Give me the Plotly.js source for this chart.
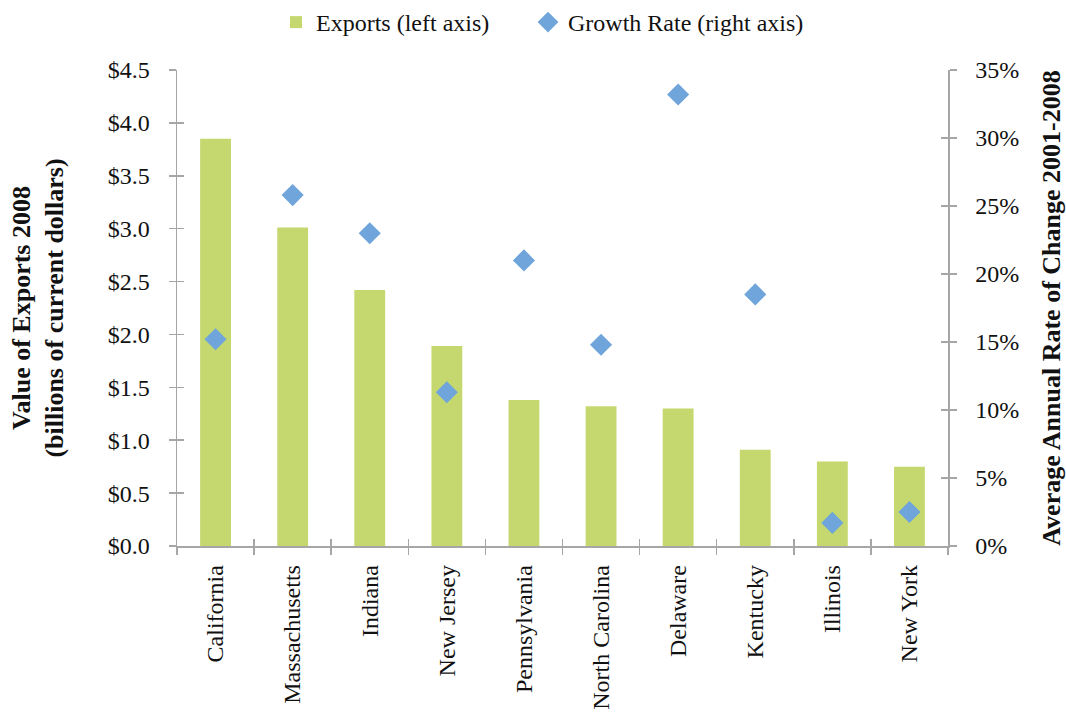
<!DOCTYPE html>
<html>
<head>
<meta charset="utf-8">
<script src="https://cdn.plot.ly/plotly-3.0.1.min.js"></script>
<style>
  html, body { margin: 0; padding: 0; background: #fff; }
  #chart { width: 1066px; height: 727px; }
</style>
</head>
<body>
<div id="chart"></div>
<script>
// Top ten states by value of exports, 2008
const states = ["California", "Massachusetts", "Indiana", "New Jersey", "Pennsylvania",
                "North Carolina", "Delaware", "Kentucky", "Illinois", "New York"];
// Value of exports, billions of current dollars
const exportsValue = [3.85, 3.01, 2.42, 1.89, 1.38, 1.32, 1.30, 0.91, 0.80, 0.75];
// Average annual rate of change 2001-2008
const growthRate = [0.152, 0.258, 0.230, 0.113, 0.210, 0.148, 0.332, 0.185, 0.017, 0.025];

const serif = "Liberation Serif, Times New Roman, serif";
const axisGray = "#A6A6A6";
const catRange = [-0.5, states.length - 0.5];

const traces = [
  {
    type: "bar", name: "Exports (left axis)",
    x: states, y: exportsValue,
    marker: { color: "#C4D86F" },
    width: 0.4,
    xaxis: "x", yaxis: "y", legend: "legend"
  },
  {
    type: "scatter", mode: "markers", name: "Growth Rate (right axis)",
    x: states, y: growthRate,
    marker: { symbol: "diamond", color: "#6FA5DA", size: 17 },
    xaxis: "x", yaxis: "y2", legend: "legend2"
  },
  // invisible helpers so the inner half of each tick mark gets drawn
  { type: "scatter", mode: "markers", x: [states[0]], y: [0], xaxis: "x2", yaxis: "y3",
    marker: { opacity: 0 }, showlegend: false, hoverinfo: "skip" },
  { type: "scatter", mode: "markers", x: [states[0]], y: [0], xaxis: "x2", yaxis: "y4",
    marker: { opacity: 0 }, showlegend: false, hoverinfo: "skip" }
];

const tickCommon = { ticklen: 7, tickwidth: 1.5, tickcolor: axisGray };
const legendCommon = {
  orientation: "h", xanchor: "left", y: 1.0, yanchor: "top",
  yref: "container", xref: "container", font: { family: serif, size: 24 },
  itemwidth: 30
};

const layout = {
  width: 1066, height: 727,
  paper_bgcolor: "#fff", plot_bgcolor: "#fff",
  margin: { l: 177, r: 118, t: 70, b: 181 },
  font: { family: serif, size: 24, color: "#111" },
  showlegend: true,
  legend: Object.assign({ x: 276 / 1066 }, legendCommon),
  legend2: Object.assign({ x: 528 / 1066 }, legendCommon),
  xaxis: Object.assign({
    type: "category", categoryorder: "array", categoryarray: states, range: catRange,
    showline: true, linecolor: axisGray, linewidth: 1.5,
    ticks: "outside", tickson: "boundaries",
    tickangle: -90, ticklabelstandoff: 8,
    showgrid: false, zeroline: false,
    tickfont: { family: serif, size: 24 }
  }, tickCommon),
  xaxis2: Object.assign({
    type: "category", categoryorder: "array", categoryarray: states, range: catRange,
    overlaying: "x", anchor: "y", side: "bottom",
    ticks: "inside", tickson: "boundaries", showticklabels: false,
    showline: false, showgrid: false, zeroline: false
  }, tickCommon),
  yaxis: Object.assign({
    range: [0, 4.5], dtick: 0.5, tickformat: "$.1f",
    showline: true, linecolor: axisGray, linewidth: 1.5,
    ticks: "outside", ticklabelstandoff: 14,
    showgrid: false, zeroline: false,
    tickfont: { family: serif, size: 24 },
    title: {
      text: "<b>Value of Exports 2008<br>(billions of current dollars)</b>",
      font: { family: serif, size: 26 }, standoff: 36
    }
  }, tickCommon),
  yaxis2: Object.assign({
    range: [0, 0.35], dtick: 0.05, tickformat: ".0%",
    overlaying: "y", side: "right", anchor: "x",
    showline: true, linecolor: axisGray, linewidth: 1.5,
    ticks: "outside", ticklabelstandoff: 14,
    showgrid: false, zeroline: false,
    tickfont: { family: serif, size: 24 },
    title: {
      text: "<b>Average Annual Rate of Change 2001-2008</b>",
      font: { family: serif, size: 26 }, standoff: 24
    }
  }, tickCommon),
  yaxis3: Object.assign({
    range: [0, 4.5], dtick: 0.5, overlaying: "y", side: "left", anchor: "x2",
    ticks: "inside", showticklabels: false,
    showline: false, showgrid: false, zeroline: false
  }, tickCommon),
  yaxis4: Object.assign({
    range: [0, 0.35], dtick: 0.05, overlaying: "y", side: "right", anchor: "x2",
    ticks: "inside", showticklabels: false,
    showline: false, showgrid: false, zeroline: false
  }, tickCommon)
};

Plotly.newPlot("chart", traces, layout, { displayModeBar: false, staticPlot: true });
</script>
</body>
</html>
